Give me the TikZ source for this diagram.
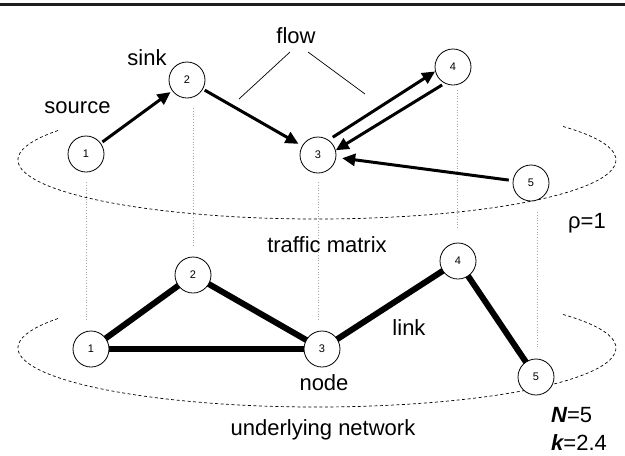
\documentclass[tikz,border=0pt]{standalone}
\usepackage{fontspec}
\setmainfont{Liberation Sans}
\usetikzlibrary{arrows.meta,calc}
\begin{document}
\begin{tikzpicture}[x=1pt,y=1pt,
  nd/.style={circle,draw,line width=0.8pt,fill=white,minimum size=36pt,inner sep=0pt,font=\fontsize{11}{12}\selectfont},
  lbl/.style={font=\fontsize{22}{26}\selectfont,anchor=base,inner sep=0pt},
  lbll/.style={lbl,anchor=base west},
  flowarr/.style={line width=3pt,-{Triangle[length=13pt,width=12pt]}},
  linkln/.style={line width=6pt},
  pointer/.style={line width=0.7pt},
  guide/.style={black!35,dotted,line width=0.8pt},
  layer/.style={dash pattern=on 3pt off 2.5pt,line width=0.7pt}
]
\useasboundingbox (0,0) rectangle (625,-456);
\fill[black!88] (0,-3) rectangle (625,-6);

% layer ellipses (front part only)
\draw[layer] ([shift={(150:299 and 59)}]317,-160) arc[start angle=150,end angle=395,x radius=299,y radius=59];
\draw[layer] ([shift={(150:299 and 59)}]317,-348) arc[start angle=150,end angle=395,x radius=299,y radius=59];

% vertical guides
\coordinate (g1a) at (86,-182);  \coordinate (g1b) at (86,-320);
\coordinate (g2a) at (193,-108); \coordinate (g2b) at (193,-247);
\coordinate (g3a) at (318,-182); \coordinate (g3b) at (318,-320);
\coordinate (g4a) at (457,-90);  \coordinate (g4b) at (457,-228);
\coordinate (g5a) at (537,-212); \coordinate (g5b) at (537,-348);
\draw[guide] (g1a) -- (g1b);
\draw[guide] (g2a) -- (g2b);
\draw[guide] (g3a) -- (g3b);
\draw[guide] (g4a) -- (g4b);
\draw[guide] (g5a) -- (g5b);

% top layer nodes
\node[nd] (t1) at (86,-154) {1};
\node[nd] (t2) at (187,-80) {2};
\node[nd] (t3) at (318,-155) {3};
\node[nd] (t4) at (453,-67) {4};
\node[nd] (t5) at (531,-183) {5};

% bottom layer nodes (links first)
\coordinate (b1c) at (91,-349);
\coordinate (b2c) at (193,-275);
\coordinate (b3c) at (322,-349);
\coordinate (b4c) at (458,-261);
\coordinate (b5c) at (536,-377);
\draw[linkln] (b1c) -- (b2c);
\draw[linkln] (b2c) -- (b3c);
\draw[linkln] (b1c) -- (b3c);
\draw[linkln] (b3c) -- (b4c);
\draw[linkln] (b4c) -- (b5c);
\node[nd] (b1) at (b1c) {1};
\node[nd] (b2) at (b2c) {2};
\node[nd] (b3) at (b3c) {3};
\node[nd] (b4) at (b4c) {4};
\node[nd] (b5) at (b5c) {5};

% flows
\draw[flowarr,shorten <=2pt,shorten >=2pt] (t1) -- (t2);
\draw[flowarr,shorten <=2pt,shorten >=4pt] (t2) -- (t3);
\draw[flowarr,shorten <=5pt] (t3.55) -- (t4.194);
\draw[flowarr,shorten <=3pt] (t4.243) -- (t3.15);
\draw[flowarr,shorten <=4pt,shorten >=6pt] (t5) -- (t3);

% labels
\node[lbl] (source) at (77.5,-113) {source};
\node[lbl] (sink) at (147,-65) {sink};
\node[lbl] (flow) at (296,-43) {flow};
\node[lbl] (tm) at (327,-252) {traffic matrix};
\node[lbll] (rho) at (568,-228) {ρ=1};
\node[lbl] (link) at (409,-335) {link};
\node[lbl] (node) at (324,-390) {node};
\node[lbl] (un) at (323,-435) {underlying network};
\node[lbll] (nn) at (551,-422) {{\bfseries\itshape N}=5};
\node[lbll] (kk) at (551,-450) {{\bfseries\itshape k}=2.4};

% flow pointers
\coordinate (p1) at (239,-99);
\coordinate (p2) at (365,-94);
\draw[pointer] (290,-52) -- (p1);
\draw[pointer] (308,-52) -- (p2);
\end{tikzpicture}
\end{document}
